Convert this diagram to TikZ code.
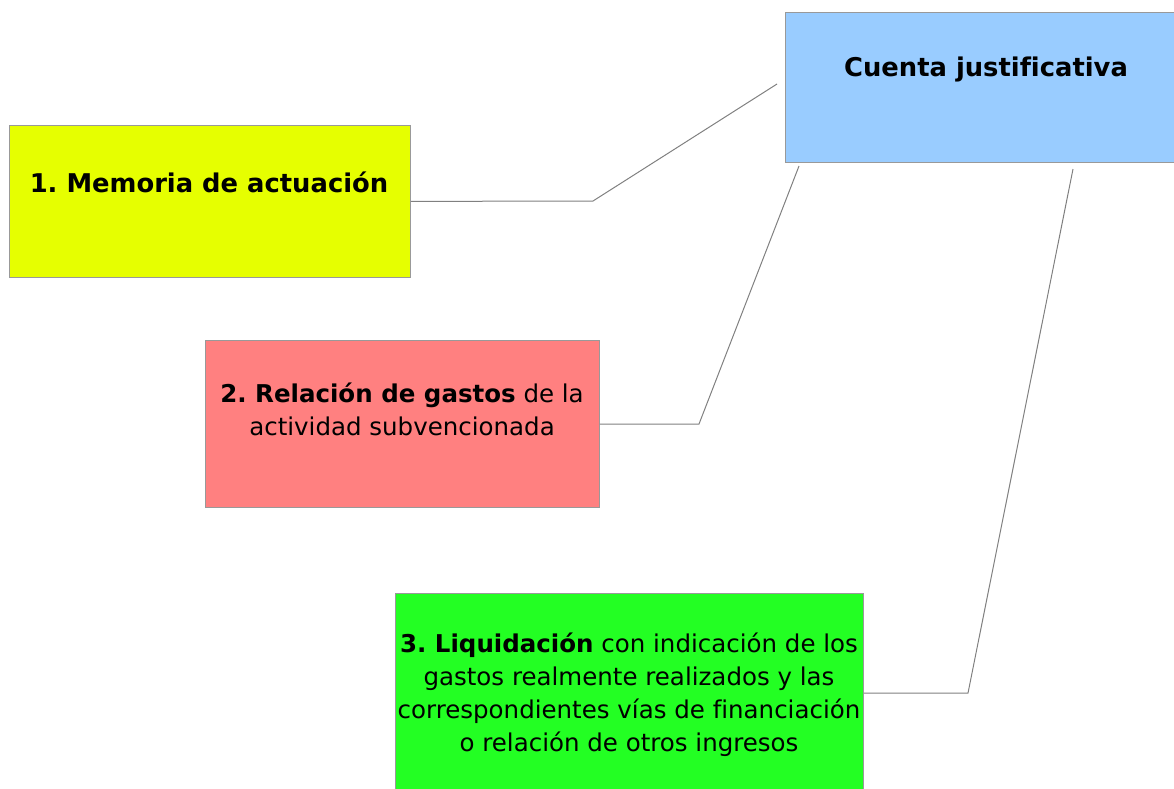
\documentclass[tikz,border=0pt]{standalone}
\usepackage{fontspec}
\setmainfont[Ligatures=NoCommon]{DejaVu Sans}
\frenchspacing
\definecolor{cyel}{HTML}{E6FF00}
\definecolor{cred}{HTML}{FF8080}
\definecolor{cgrn}{HTML}{23FF23}
\definecolor{cblu}{HTML}{99CCFF}
\definecolor{cbord}{HTML}{999999}
\definecolor{cline}{HTML}{808080}
\begin{document}
\begin{tikzpicture}[x=1pt,y=-1pt,
  box/.style={draw=cbord,line width=0.8pt,rectangle,inner sep=0pt,anchor=north west},
  txt/.style={align=center,inner sep=0pt,font=\fontsize{24.5}{33}\selectfont},
  conn/.style={draw=cline,line width=1pt,line join=miter}]
\useasboundingbox (0,0) rectangle (1174,788);
% boxes
\node[box,fill=cblu,minimum width=391pt,minimum height=150pt] (cj) at (785,12) {};
\node[box,fill=cyel,minimum width=401pt,minimum height=152pt] (m1) at (9,125) {};
\node[box,fill=cred,minimum width=394pt,minimum height=167pt] (m2) at (205,340) {};
\node[box,fill=cgrn,minimum width=468pt,minimum height=200pt] (m3) at (395,593) {};
% texts
\node[txt,font=\fontsize{25.8}{33}\selectfont\bfseries] (cjt) at (986,69) {Cuenta justificativa};
\node[txt,font=\fontsize{25.8}{33}\selectfont\bfseries] (m1t) at (209,182) {1. Memoria de actuación};
\node[txt] (m2t) at (402,409) {\textbf{2. Relación de gastos} de la\\actividad subvencionada};
\node[txt] (m3t) at (629,695) {\textbf{3. Liquidación} con indicación de los\\gastos realmente realizados y las\\correspondientes vías de financiación\\o relación de otros ingresos};
% connector points
\coordinate (k1) at (593,201);
\coordinate (e1) at (777,84);
\coordinate (k2) at (699,424);
\coordinate (e2) at (799,166);
\coordinate (k3) at (968,693);
\coordinate (e3) at (1073,169);
\draw[conn] (m1.east) -- (k1) -- (e1);
\draw[conn] (m2.east |- k2) -- (k2) -- (e2);
\draw[conn] (m3.east |- k3) -- (k3) -- (e3);
\end{tikzpicture}
\end{document}
